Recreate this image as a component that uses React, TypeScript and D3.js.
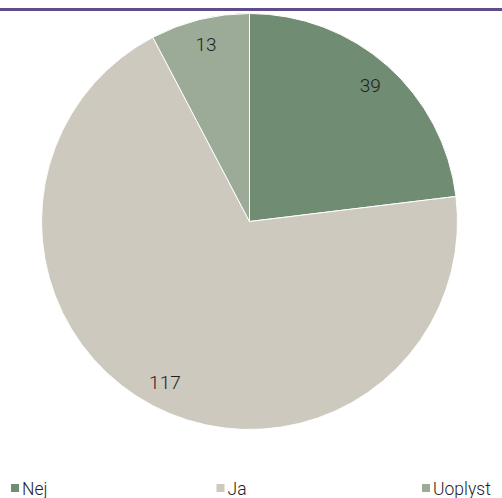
import React from "react";
import * as d3 from "d3";

const categories = ["Nej", "Ja", "Uoplyst"];
const values = [39, 117, 13];
const colors = ["#708c72", "#cdc9be", "#9bab97"];

const W = 502;
const H = 498;
const cx = 249.5;
const cy = 221.5;
const R = 208;

export default function App() {
  const pie = d3.pie<number>().sort(null).value((d) => d);
  const arcs = pie(values);
  const arc = d3.arc<d3.PieArcDatum<number>>().innerRadius(0).outerRadius(R);
  const labelArc = d3
    .arc<d3.PieArcDatum<number>>()
    .innerRadius(R * 0.875)
    .outerRadius(R * 0.875);
  const legendX = d3.scalePoint<string>().domain(categories).range([11, 422]);

  return (
    <svg
      width={W}
      height={H}
      style={{ position: "absolute", left: 0, top: 0, background: "#fff" }}
      fontFamily="Roboto, 'DejaVu Sans', sans-serif"
    >
      <rect x={0} y={8} width={W} height={3} fill="#604c8a" />
      <g transform={`translate(${cx},${cy})`}>
        {arcs.map((a, i) => (
          <path key={i} d={arc(a) || ""} fill={colors[i]} stroke="#fff" strokeWidth={1} />
        ))}
        {arcs.map((a, i) => {
          const [x, y] = labelArc.centroid(a);
          return (
            <text
              key={"l" + i}
              x={x}
              y={y}
              textAnchor="middle"
              dominantBaseline="central"
              fontSize={19}
              fontWeight={300}
              fill="#1e1e1e"
            >
              {values[i]}
            </text>
          );
        })}
      </g>
      {categories.map((c, i) => {
        const x = legendX(c) || 0;
        return (
          <g key={c}>
            <rect x={x} y={484} width={8} height={8} fill={colors[i]} />
            <text x={x + 11} y={495} fontSize={17.5} fontWeight={300} fill="#1e1e1e">
              {c}
            </text>
          </g>
        );
      })}
    </svg>
  );
}
